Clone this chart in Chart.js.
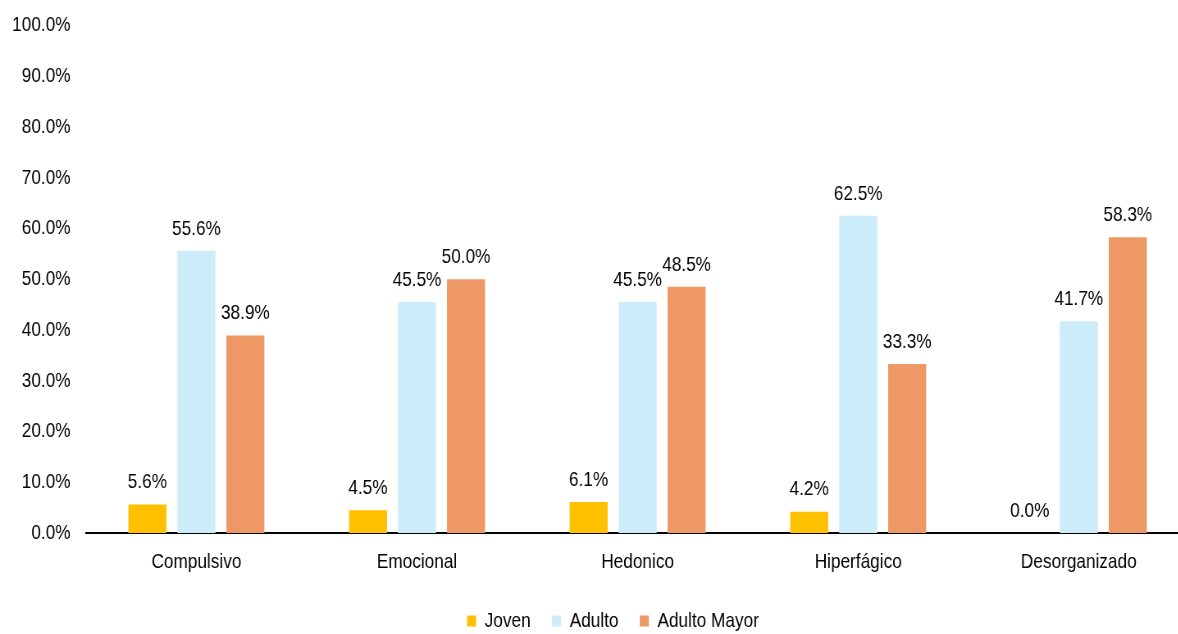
<!DOCTYPE html>
<html>
<head>
<meta charset="utf-8">
<script src="https://cdn.jsdelivr.net/npm/chart.js@4.4.1/dist/chart.umd.min.js"></script>
<style>
html,body{margin:0;padding:0;background:#fff;overflow:hidden;}
#wrap{width:1495px;height:634px;position:relative;transform:scaleX(0.82007);transform-origin:0 0;}
</style>
</head>
<body>
<div id="wrap"><canvas id="c" width="1495" height="634"></canvas></div>
<script>
const categories = ['Compulsivo', 'Emocional', 'Hedonico', 'Hiperfágico', 'Desorganizado'];
const seriesNames = ['Joven', 'Adulto', 'Adulto Mayor'];
const joven = [5.6, 4.5, 6.1, 4.2, 0.0];
const adulto = [55.6, 45.5, 45.5, 62.5, 41.7];
const adultoMayor = [38.9, 50.0, 48.5, 33.3, 58.3];
const yTicks = [0, 10, 20, 30, 40, 50, 60, 70, 80, 90, 100];
const colors = ['#FFC000', '#CCECFA', '#EE9866'];

// Condensed look (like Arial Narrow) is obtained by the horizontal CSS scale of the wrapper.
const FONT = "'Liberation Sans', Arial, sans-serif";

const labelPlugin = {
  id: 'barLabels',
  afterDatasetsDraw(chart) {
    const ctx = chart.ctx;
    ctx.save();
    ctx.font = '21px ' + FONT;
    ctx.fillStyle = '#000';
    ctx.textAlign = 'center';
    ctx.textBaseline = 'middle';
    chart.data.datasets.forEach((ds, i) => {
      const meta = chart.getDatasetMeta(i);
      meta.data.forEach((bar, j) => {
        ctx.fillText(ds.data[j].toFixed(1) + '%', bar.x, bar.y - 22);
      });
    });
    ctx.restore();
  }
};

new Chart(document.getElementById('c'), {
  type: 'bar',
  data: {
    labels: categories,
    datasets: [
      { label: seriesNames[0], data: joven, backgroundColor: colors[0] },
      { label: seriesNames[1], data: adulto, backgroundColor: colors[1] },
      { label: seriesNames[2], data: adultoMayor, backgroundColor: colors[2] }
    ]
  },
  options: {
    responsive: false,
    animation: false,
    devicePixelRatio: 1,
    layout: { padding: { top: 25.5, right: 0, left: 0, bottom: -7.5 } },
    datasets: { bar: { categoryPercentage: 0.666, barPercentage: 0.776 } },
    plugins: {
      legend: {
        position: 'bottom',
        labels: {
          font: { family: FONT, size: 21 },
          color: '#000',
          boxWidth: 11,
          boxHeight: 11,
          padding: 26
        }
      },
      tooltip: { enabled: false }
    },
    scales: {
      x: {
        grid: { display: false, drawTicks: false },
        border: { display: true, color: '#000', width: 2 },
        ticks: { font: { family: FONT, size: 21 }, color: '#000', padding: 17 },
        afterFit(s) { s.height = 51.5; }
      },
      y: {
        min: 0, max: 100,
        grid: { display: false, drawTicks: false },
        border: { display: false },
        afterBuildTicks(s) { s.ticks = yTicks.map(v => ({ value: v })); },
        ticks: {
          font: { family: FONT, size: 21 },
          color: '#000',
          padding: 19,
          callback: v => Number(v).toFixed(1) + '%'
        },
        afterFit(s) { s.width = 105; s.paddingTop = 12; s.paddingBottom = 12; }
      },
      spacer: {
        type: 'linear',
        position: 'right',
        display: true,
        grid: { display: false, drawTicks: false },
        border: { display: false },
        ticks: { display: false },
        afterFit(s) { s.width = 45; s.paddingTop = 0; s.paddingBottom = 0; }
      }
    }
  },
  plugins: [labelPlugin]
});
</script>
</body>
</html>
